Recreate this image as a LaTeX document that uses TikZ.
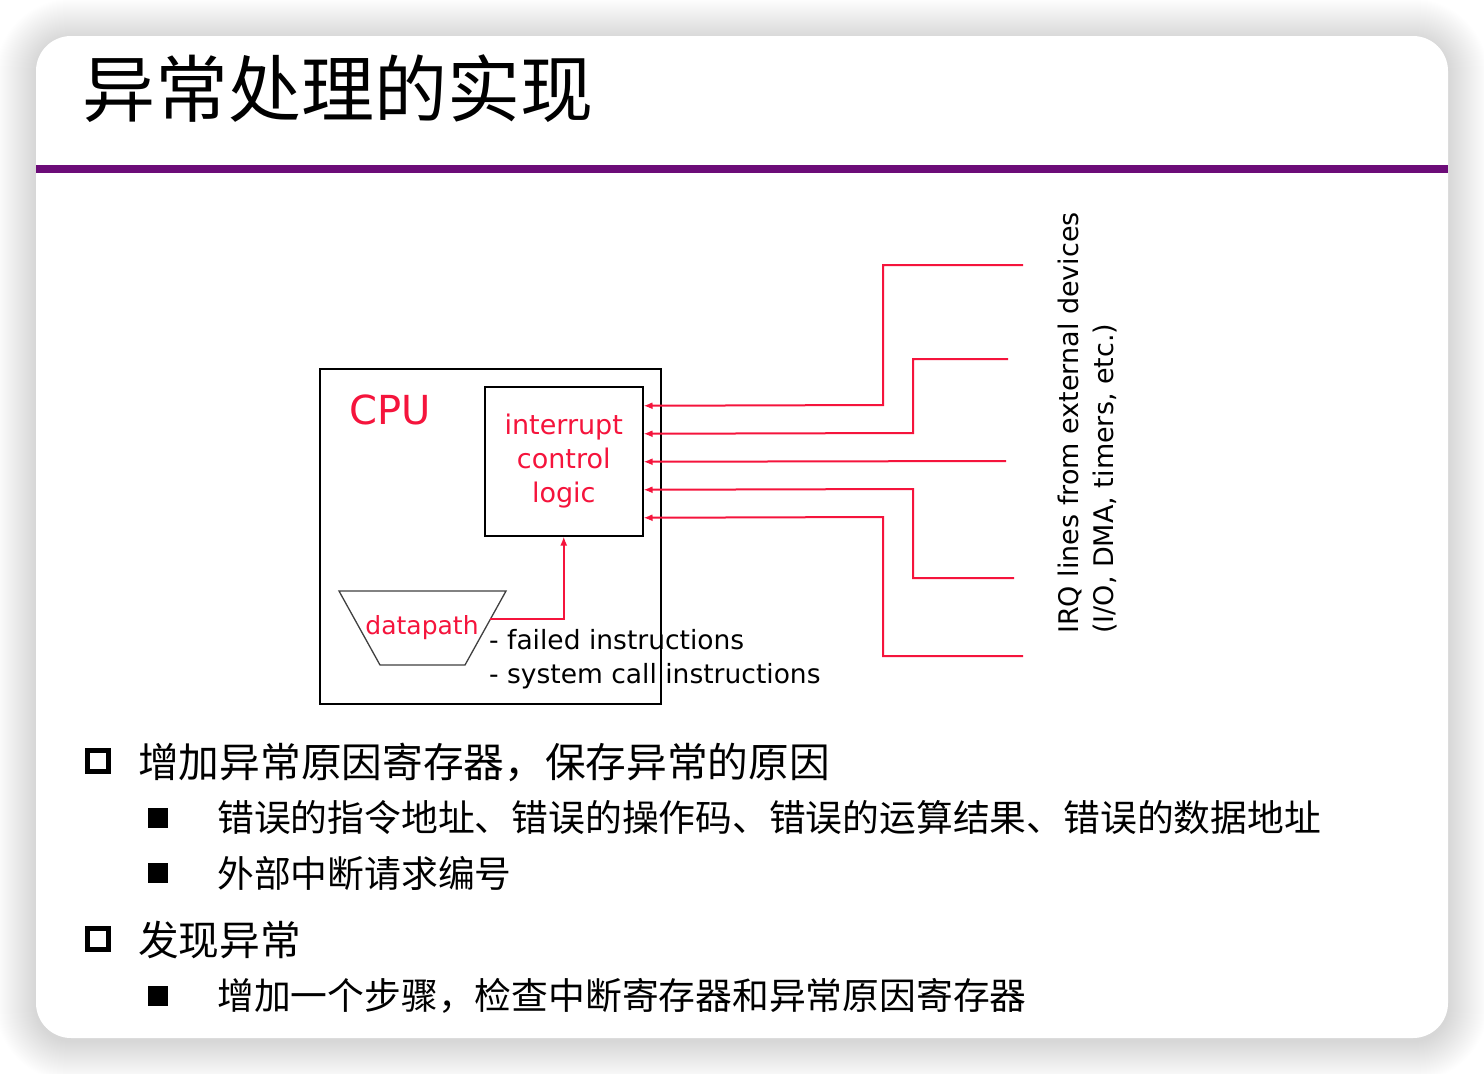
\documentclass[tikz,border=0pt]{standalone}
\usepackage{fontspec}
\usetikzlibrary{arrows.meta}
\newfontfamily\cjk{Noto Sans CJK SC}
\newfontfamily\hand{DejaVu Sans}
\definecolor{rulepurple}{HTML}{6C0C78}
\definecolor{wirered}{HTML}{F5143C}
\tikzset{
  card/.style={fill=white, rounded corners=35},
  blockbox/.style={draw=black, line width=1.5pt, anchor=north west, inner sep=0pt},
  redtext/.style={text=wirered, font=\hand\fontsize{27}{34}\selectfont, align=center},
  notetext/.style={text=black, font=\hand\fontsize{26.5}{34}\selectfont, anchor=west, inner sep=0pt},
  wire/.style={draw=wirered, line width=2pt, -{Latex[length=9pt,width=7pt]}},
  lvlone/.style={font=\cjk\fontsize{40.7}{48}\selectfont, anchor=west, inner sep=0pt},
  lvltwo/.style={font=\cjk\fontsize{36.8}{45}\selectfont, anchor=west, inner sep=0pt},
  hollowbox/.style={draw=black, line width=5pt, minimum size=21, inner sep=0pt},
  solidbox/.style={fill=black, minimum size=20, inner sep=0pt},
}
\begin{document}
\begin{tikzpicture}[x=1pt,y=-1pt]
\useasboundingbox (0,0) rectangle (1484,1074);
\fill[white] (0,0) rectangle (1484,1074);
% soft shadow round the slide card
\foreach \i in {1,...,40}
  \fill[black, opacity=0.003, rounded corners=35+\i]
    (36-\i,36-\i+3) rectangle (1448+\i,1038+\i+3);
% slide card and title rule
\path[card] (36,36) rectangle (1448,1038);
\fill[rulepurple] (36,165) rectangle (1448,173);
\node[anchor=base west, inner sep=0pt, font=\cjk\fontsize{73}{80}\selectfont] (title) at (82,116) {异常处理的实现};

% CPU with interrupt logic and datapath
\node[blockbox, minimum width=341, minimum height=335] (cpu) at (319,368) {};
\node[text=wirered, font=\hand\fontsize{40}{44}\selectfont, inner sep=0pt] (cpulabel) at (390,410) {CPU};
\node[blockbox, minimum width=158, minimum height=149] (icl) at (484,386) {};
\node[redtext] (icltext) at (icl.center) {interrupt\\control\\logic};
\draw[draw=black!75, line width=1.3pt] (339,591) -- (506,591) -- (465,665) -- (380,665) -- cycle;
\node[redtext, font=\hand\fontsize{25}{30}\selectfont, inner sep=0pt] (dp) at (422,628) {datapath};
\coordinate (dpout) at (490,619);
\draw[wire] (dpout) -| (icl.south);
\node[notetext] (failed) at (489,640) {- failed instructions};
\node[notetext] (syscall) at (489,676) {- system call instructions};

% IRQ lines
\coordinate (r1) at (1023,265);
\coordinate (r2) at (1008,359);
\coordinate (r3) at (1006,461);
\coordinate (r4) at (1014,578);
\coordinate (r5) at (1023,656);
\draw[wire] (r1) -| (883,405) -- ([yshift=55.5pt]icl.east);
\draw[wire] (r2) -| (913,433) -- ([yshift=27.5pt]icl.east);
\draw[wire] (r3) -- ([yshift=-0.5pt]icl.east);
\draw[wire] (r4) -| (913,489) -- ([yshift=-28.5pt]icl.east);
\draw[wire] (r5) -| (883,517) -- ([yshift=-56.5pt]icl.east);
\node[rotate=90, anchor=north west, align=left, inner sep=0pt,
      font=\hand\fontsize{27}{35}\selectfont] (irq) at (1058,634)
      {IRQ lines from external devices\\(I/O, DMA, timers, etc.)};

% bullet list
\node[hollowbox] (b1) at (98,761) {};
\node[lvlone] (t1) at (138,762) {增加异常原因寄存器，保存异常的原因};
\node[solidbox] (b2) at (158,818) {};
\node[lvltwo] (t2) at (217,818) {错误的指令地址、错误的操作码、错误的运算结果、错误的数据地址};
\node[solidbox] (b3) at (158,873) {};
\node[lvltwo] (t3) at (217,873) {外部中断请求编号};
\node[hollowbox] (b4) at (98,939) {};
\node[lvlone] (t4) at (138,940) {发现异常};
\node[solidbox] (b5) at (158,996) {};
\node[lvltwo] (t5) at (217,996) {增加一个步骤，检查中断寄存器和异常原因寄存器};
\end{tikzpicture}
\end{document}
